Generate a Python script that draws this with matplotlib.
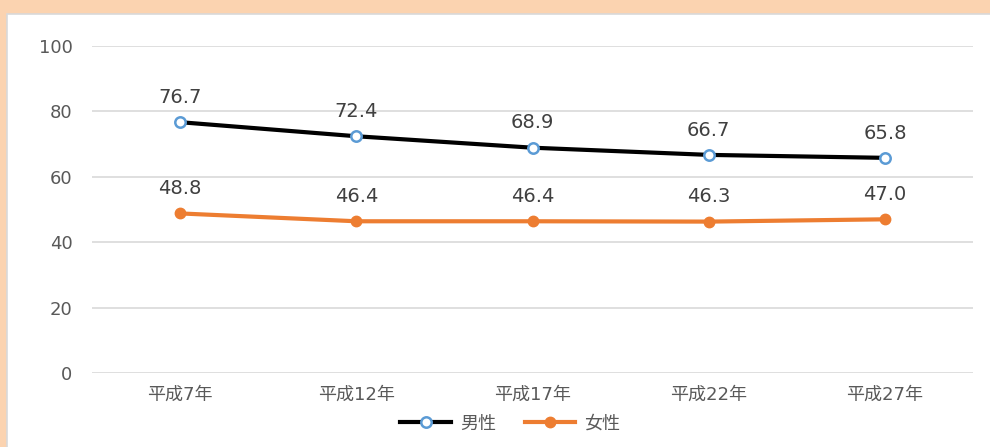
import numpy as np
import matplotlib
matplotlib.use('Agg')
import matplotlib.pyplot as plt
from matplotlib.patches import Rectangle

# digits from DejaVu (wider), kanji fall back to Noto CJK
plt.rcParams['font.family'] = ['DejaVu Sans', 'Noto Sans CJK JP']

years = ['平成7年', '平成12年', '平成17年', '平成22年', '平成27年']
male = [76.7, 72.4, 68.9, 66.7, 65.8]
female = [48.8, 46.4, 46.4, 46.3, 47.0]
yticks = [0, 20, 40, 60, 80, 100]

fig = plt.figure(figsize=(9.9, 4.47), dpi=100)
fig.patch.set_facecolor('#fbd3b0')
# white panel with thin grey edge inside the peach frame
bg = fig.add_axes([0, 0, 1, 1], zorder=-1)
bg.axis('off')
bg.add_patch(Rectangle((7 / 990, -0.01), 1, 1 - 14 / 447 + 0.01, transform=bg.transAxes,
                       facecolor='white', edgecolor='#d9d9d9', lw=1.2))

ax = fig.add_axes([92 / 990, 1 - 373 / 447, 881 / 990, 327 / 447])
ax.set_facecolor('none')
x = np.arange(len(years))

ax.plot(x, male, color='black', lw=3, marker='o', ms=7.5, mfc='white', mec='#5b9bd5',
        mew=1.8, label='男性', zorder=3)
ax.plot(x, female, color='#ed7d31', lw=3, marker='o', ms=7.5, mfc='#ed7d31', mec='#ed7d31',
        label='女性', zorder=3)

for xi, v in zip(x, male):
    ax.annotate(f'{v:.1f}', (xi, v), xytext=(0, 11), textcoords='offset points',
                ha='center', va='bottom', fontsize=14, color='#404040')
for xi, v in zip(x, female):
    ax.annotate(f'{v:.1f}', (xi, v), xytext=(0, 11), textcoords='offset points',
                ha='center', va='bottom', fontsize=14, color='#404040')

ax.set_xlim(-0.5, len(years) - 0.5)
ax.set_ylim(0, 100)
ax.set_yticks(yticks)
ax.set_xticks(x)
ax.set_xticklabels(years)
ax.tick_params(length=0, labelcolor='#595959')
ax.tick_params(axis='y', pad=14, labelsize=13)
ax.tick_params(axis='x', pad=9, labelsize=13)
ax.grid(axis='y', color='#d9d9d9', lw=1.2)
ax.set_axisbelow(True)
for s in ax.spines.values():
    s.set_visible(False)

ax.legend(loc='center', bbox_to_anchor=(0.475, -0.155), ncol=2, frameon=False,
          fontsize=13, labelcolor='#595959', handlelength=2.8, handletextpad=0.5,
          columnspacing=1.6)

fig.savefig('out.png', dpi=100, facecolor=fig.get_facecolor())
